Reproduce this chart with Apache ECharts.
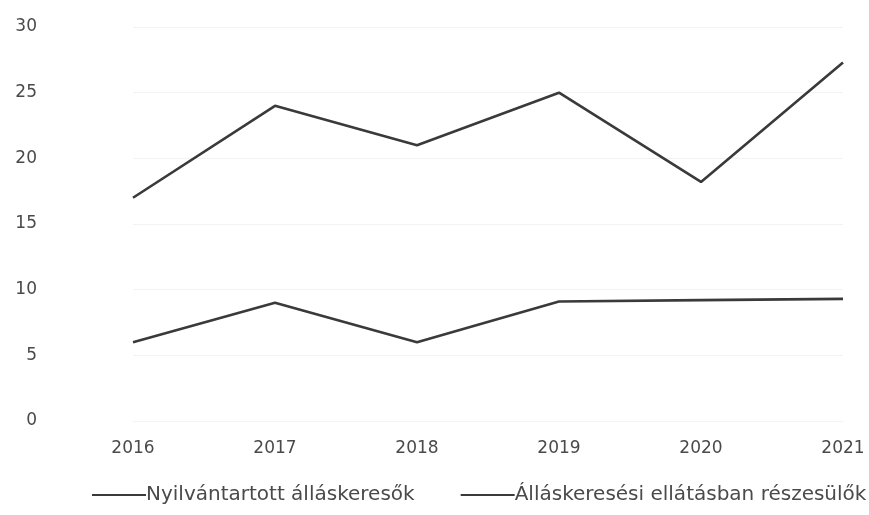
<!DOCTYPE html>
<html><head><meta charset="utf-8">
<script src="https://cdn.jsdelivr.net/npm/echarts@6/dist/echarts.min.js"></script>
<style>html,body{margin:0;padding:0;background:#fff}#c{width:869px;height:515px}</style>
</head><body><div id="c"></div>
<script>
const years = ['2016','2017','2018','2019','2020','2021'];
const seriesNames = ['Nyilvántartott álláskeresők','Álláskeresési ellátásban részesülők'];
const registered = [17, 24, 21, 25, 18.2, 27.3];
const benefit = [6, 9, 6, 9.1, 9.2, 9.3];
const yTicks = [0, 5, 10, 15, 20, 25, 30];

const font = 'DejaVu Sans, sans-serif';
const chart = echarts.init(document.getElementById('c'), null, {renderer:'canvas'});
chart.setOption({
  animation:false,
  backgroundColor:'#fff',
  grid:{left:133, right:26, top:27, bottom:94},
  xAxis:{type:'category', data:years, boundaryGap:false,
    axisLine:{show:false}, axisTick:{show:false},
    axisLabel:{color:'#4a4a4a', fontFamily:font, fontSize:17, margin:19}},
  yAxis:{type:'value', min:yTicks[0], max:yTicks[yTicks.length-1], interval:5,
    axisLine:{show:false}, axisTick:{show:false},
    splitLine:{lineStyle:{color:'#f3f3f3', width:1}},
    axisLabel:{color:'#4a4a4a', fontFamily:font, fontSize:17, margin:96}},
  legend:{bottom:10, left:92, padding:0, itemWidth:54, itemHeight:2, itemGap:46, icon:'rect',
    textStyle:{color:'#4a4a4a', fontFamily:font, fontSize:20, padding:[0,0,0,-5]},
    data:seriesNames},
  series:[
    {name:seriesNames[0], type:'line', data:registered, symbol:'none',
     lineStyle:{color:'#3a3a3a', width:2.6}, itemStyle:{color:'#3a3a3a'}},
    {name:seriesNames[1], type:'line', data:benefit, symbol:'none',
     lineStyle:{color:'#3a3a3a', width:2.6}, itemStyle:{color:'#3a3a3a'}}
  ]
});
</script></body></html>
